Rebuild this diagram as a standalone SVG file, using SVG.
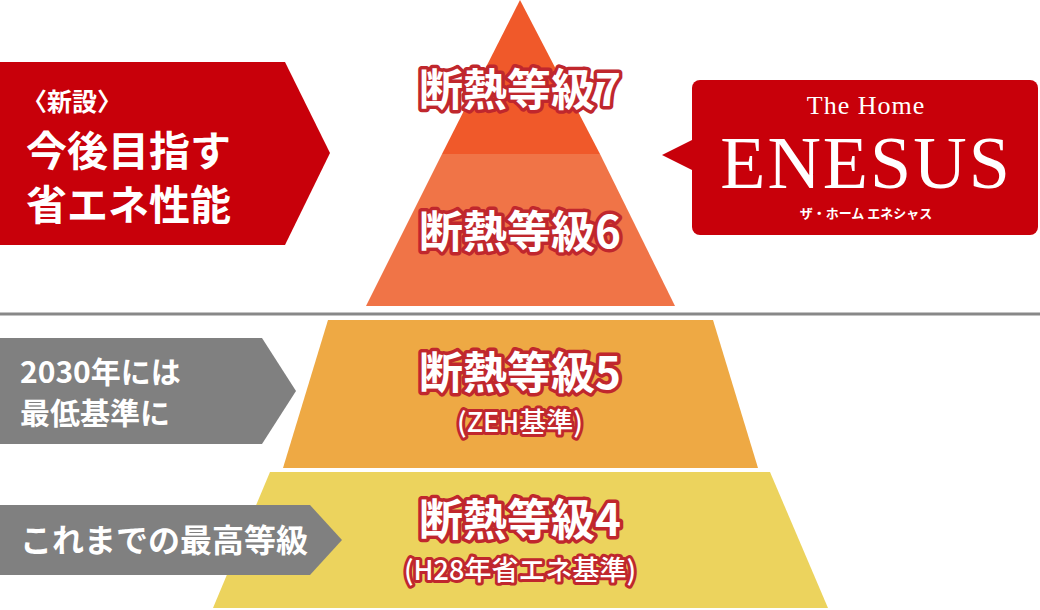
<svg xmlns="http://www.w3.org/2000/svg" width="1040" height="610" viewBox="0 0 1040 610">
<style>
.lv{font-family:"Noto Sans CJK JP",sans-serif;font-weight:700;fill:#fff;stroke:#c0272d;stroke-width:7;stroke-linejoin:round;paint-order:stroke;text-anchor:middle}
.sub{font-family:"Noto Sans CJK JP",sans-serif;font-weight:500;fill:#fff;stroke:#c0272d;stroke-width:6;stroke-linejoin:round;paint-order:stroke;text-anchor:middle}
.lb{font-family:"Noto Sans CJK JP",sans-serif;font-weight:700;fill:#fff}
.sf{font-family:"Liberation Serif",serif;fill:#fff;text-anchor:middle}
</style>
<rect width="1040" height="610" fill="#fff"/>
<g id="pyramid">
<polygon points="520,0 600,154 442,154" fill="#f0592a"/>
<polygon points="442,154 600,154 675,306 366,306" fill="#f07447"/>
<polygon points="328,320 713,320 758,468 283,468" fill="#eea944"/>
<polygon points="270,472 770,472 828,608 213,608" fill="#ecd35d"/>
<line x1="0" y1="314" x2="1040" y2="314" stroke="#888" stroke-width="3"/>
</g>
<g id="level7"><text class="lv" x="520" y="106" font-size="44">断熱等級7</text></g>
<g id="level6"><text class="lv" x="520" y="248" font-size="44">断熱等級6</text></g>
<g id="level5"><text class="lv" x="520" y="389" font-size="44">断熱等級5</text><text class="sub" x="520" y="432" font-size="27">(ZEH基準)</text></g>
<g id="level4"><text class="lv" x="520" y="536" font-size="44">断熱等級4</text><text class="sub" x="520" y="580" font-size="27">(H28年省エネ基準)</text></g>
<g id="label-new">
<polygon points="0,62 285,62 330,153 285,245 0,245" fill="#c8000a"/>
<text class="lb" x="22" y="111" font-size="25">〈新設〉</text>
<text class="lb" x="26" y="166" font-size="41">今後目指す</text>
<text class="lb" x="26" y="220" font-size="41">省エネ性能</text>
</g>
<g id="label-2030">
<polygon points="0,338 262,338 296,391 262,444 0,444" fill="#808080"/>
<text class="lb" x="20" y="383" font-size="30">2030年には</text>
<text class="lb" x="20" y="424" font-size="30">最低基準に</text>
</g>
<g id="label-max">
<polygon points="0,505 310,505 342,540 310,575 0,575" fill="#808080"/>
<text class="lb" x="20" y="552" font-size="32">これまでの最高等級</text>
</g>
<g id="enesus">
<polygon points="662,155 696,138 696,172" fill="#c8000a"/>
<rect x="692" y="80" width="346" height="155" rx="8" fill="#c8000a"/>
<text class="sf" x="866" y="114" font-size="26" letter-spacing="1">The Home</text>
<text class="sf" x="866" y="188" font-size="74" letter-spacing="2">ENESUS</text>
<text x="866" y="218" font-size="13" fill="#fff" text-anchor="middle" font-family="Noto Sans CJK JP,sans-serif" font-weight="700">ザ・ホーム  エネシャス</text>
</g>
</svg>
